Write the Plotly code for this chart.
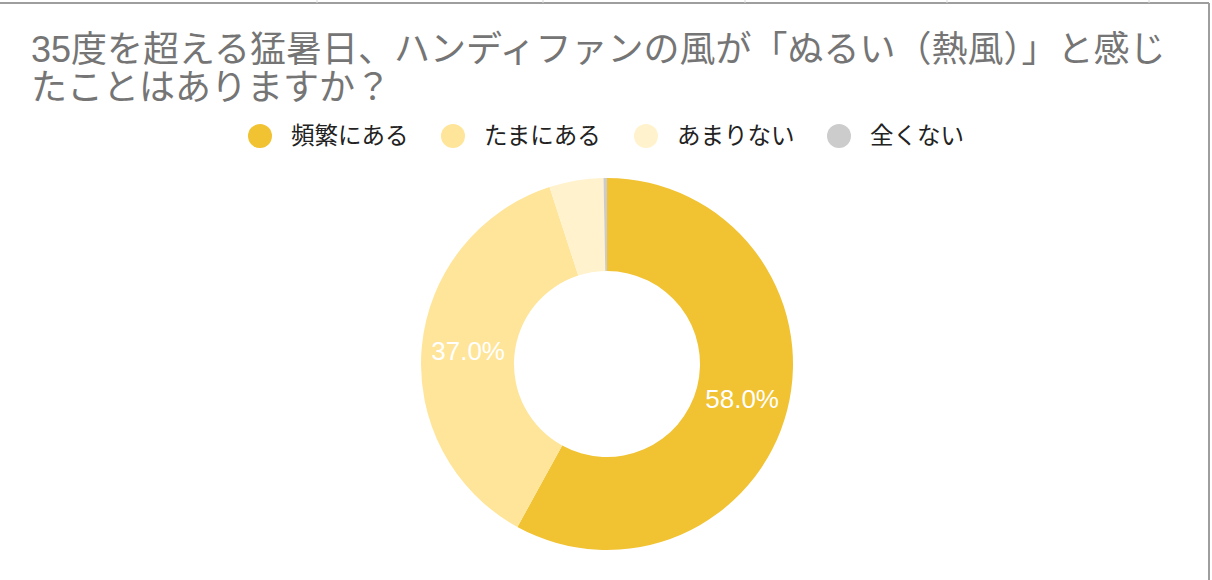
import plotly.graph_objects as go

# answers and share of respondents (%)
labels = ["頻繁にある", "たまにある", "あまりない", "全くない"]
shares = [58.0, 37.0, 4.7, 0.3]
colors = ["#F1C232", "#FFE599", "#FFF2CC", "#CCCCCC"]

title_lines = [
    "35度を超える猛暑日、ハンディファンの風が「ぬるい（熱風）」と感じ",
    "たことはありますか？",
]

W, H = 1212, 580
FONT = "Arial, Liberation Sans, Noto Sans CJK JP, sans-serif"


def px(x):
    return x / W


def py(y):
    return 1 - y / H


# small slices get no label, like the original sheet chart
slice_text = [f"{v:.1f}%" if v >= 10 else "" for v in shares]

fig = go.Figure()
fig.add_trace(go.Pie(
    labels=labels,
    values=shares,
    text=slice_text,
    textinfo="text",
    textposition="inside",
    insidetextorientation="horizontal",
    textfont=dict(family=FONT, size=26, color="white"),
    marker=dict(colors=colors, line=dict(width=0)),
    hole=0.5,
    sort=False,
    direction="clockwise",
    rotation=0,
    showlegend=False,
    hoverinfo="label+percent",
    domain=dict(x=[px(421), px(793)], y=[py(550), py(178)]),
))

annotations = []
for i, (line, yc) in enumerate(zip(title_lines, [49, 87])):
    annotations.append(dict(
        text=line, x=px(29), y=py(yc), xref="paper", yref="paper",
        xanchor="left", yanchor="middle", showarrow=False,
        font=dict(family=FONT, size=36, color="#757575"),
    ))

# hand-made legend with big round keys
shapes = []
leg_x0, leg_step, leg_y, r = 248, 193, 136, 12
for i, (name, col) in enumerate(zip(labels, colors)):
    cx = leg_x0 + r + i * leg_step
    shapes.append(dict(
        type="circle", xref="paper", yref="paper",
        x0=px(cx - r), x1=px(cx + r), y0=py(leg_y + r), y1=py(leg_y - r),
        fillcolor=col, line=dict(width=0),
    ))
    annotations.append(dict(
        text=name, x=px(cx + r + 17), y=py(leg_y), xref="paper", yref="paper",
        xanchor="left", yanchor="middle", showarrow=False,
        font=dict(family=FONT, size=23.5, color="#222222"),
    ))

# frame of the sheet cell the chart sits in
shapes.append(dict(type="line", xref="paper", yref="paper",
                   x0=0, x1=px(1209), y0=py(3), y1=py(3),
                   line=dict(color="#9E9E9E", width=2)))
shapes.append(dict(type="line", xref="paper", yref="paper",
                   x0=px(1209), x1=px(1209), y0=py(3), y1=0,
                   line=dict(color="#9E9E9E", width=2)))
for gx in [317, 543, 745, 947, 1149]:
    shapes.append(dict(type="line", xref="paper", yref="paper",
                       x0=px(gx), x1=px(gx), y0=1, y1=py(3),
                       line=dict(color="#D9D9D9", width=1)))

fig.update_layout(
    width=W,
    height=H,
    margin=dict(l=0, r=0, t=0, b=0),
    paper_bgcolor="white",
    plot_bgcolor="white",
    annotations=annotations,
    shapes=shapes,
)

# drop the browser's default body margin so the figure sits at the page corner
fig.write_html(
    "out.html",
    config={"displayModeBar": False},
    post_script="document.body.style.margin='0';",
)
